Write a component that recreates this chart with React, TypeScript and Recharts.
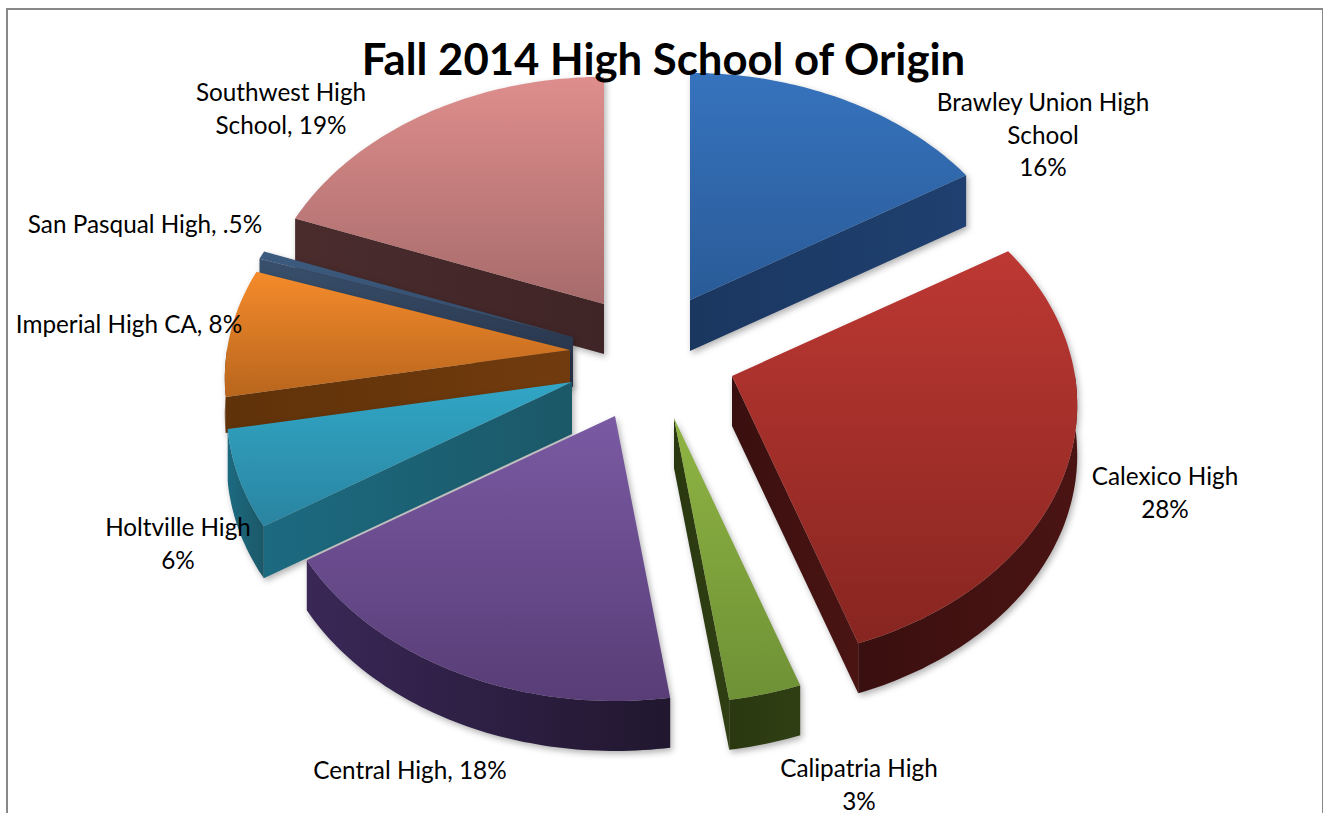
import { PieChart, Pie } from 'recharts'

const schools = [
  'Brawley Union High School',
  'Calexico High',
  'Calipatria High',
  'Central High',
  'Holtville High',
  'Imperial High CA',
  'San Pasqual High',
  'Southwest High School',
]
const shares = [16, 28, 3, 18, 6, 8, 0.5, 19]
const labelLines = [
  ['Brawley Union High', 'School', '16%'],
  ['Calexico High', '28%'],
  ['Calipatria High', '3%'],
  ['Central High, 18%'],
  ['Holtville High', '6%'],
  ['Imperial High CA, 8%'],
  ['San Pasqual High, .5%'],
  ['Southwest High', 'School, 19%'],
]

// painted back to front, so the pie runs counter-clockwise from 12 o'clock
const rows = schools.map((name, i) => ({ name, value: shares[i], index: i })).reverse()

const WIDTH = 1323
const HEIGHT = 813
const CX = 640
const CY = 370
const RADIUS = 343
const TILT = 0.737
const PERSPECTIVE = 0.113

// explode offset of each wedge tip, wall height, top face colours, wall colours, label anchor
const looks = [
  { dx: 50, dy: -70, depth: 51, top: ['#3673bd', '#2a5b98'], wall: ['#1a3760', '#1f4070'], at: [1043, 111] },
  { dx: 92, dy: 6, depth: 50, top: ['#bd3833', '#872520'], wall: ['#3a0f0f', '#4a1413'], at: [1165, 485] },
  { dx: 34, dy: 48, depth: 50, top: ['#8fb443', '#6f9136'], wall: ['#2a3810', '#303f13'], at: [859, 777] },
  { dx: -25, dy: 46, depth: 50, top: ['#7a5aa3', '#583d77'], wall: ['#3a2757', '#21172f'], at: [410, 779] },
  { dx: -68, dy: 12, depth: 52, top: ['#31a6c6', '#2a84a0'], wall: ['#1c6a80', '#1b5868'], at: [178, 536] },
  { dx: -70, dy: -20, depth: 36, top: ['#f58b2b', '#b8651d'], wall: ['#603209', '#713b0e'], at: [129, 333] },
  { dx: -67, dy: -33, depth: 50, top: ['#3d5c80', '#324a68'], wall: ['#384f6b', '#2b3950'], at: [145, 233] },
  { dx: -36, dy: -66, depth: 50, top: ['#de8e8c', '#a76b6b'], wall: ['#4a2c2d', '#402526'], at: [281, 101] },
]

const fontFamily = 'Lato, Carlito, sans-serif'

type Pt = [number, number]

function Wedge(props: any) {
  const { cx, cy, startAngle, endAngle, outerRadius } = props
  const index = props.payload?.index ?? props.index
  const look = looks[index]
  const tip: Pt = [cx + look.dx, cy + look.dy]

  const rimPoint = (deg: number): Pt => {
    const rad = (deg * Math.PI) / 180
    const u = Math.cos(rad)
    const v = -Math.sin(rad)
    const s = 1 / (1 - PERSPECTIVE * v)
    return [tip[0] + outerRadius * u * s, tip[1] + outerRadius * TILT * v * s]
  }

  const steps = Math.max(2, Math.ceil(endAngle - startAngle))
  const angles = Array.from({ length: steps + 1 }, (_, i) => startAngle + ((endAngle - startAngle) * i) / steps)
  const rim = angles.map(rimPoint)
  const first = rim[0]
  const last = rim[rim.length - 1]
  const mid = rim[Math.floor(rim.length / 2)]
  const centre: Pt = [(tip[0] + first[0] + last[0] + mid[0]) / 4, (tip[1] + first[1] + last[1] + mid[1]) / 4]

  const toPath = (pts: Pt[]) => pts.map((p, i) => `${i ? 'L' : 'M'}${p[0].toFixed(1)} ${p[1].toFixed(1)}`).join(' ') + ' Z'
  const drop = (pts: Pt[]): Pt[] => [...pts, ...pts.slice().reverse().map((p): Pt => [p[0], p[1] + look.depth])]

  const facesViewer = (end: Pt) => {
    const ex = end[0] - tip[0]
    const ey = end[1] - tip[1]
    let nx = -ey
    let ny = ex
    const mx = (end[0] + tip[0]) / 2 - centre[0]
    const my = (end[1] + tip[1]) / 2 - centre[1]
    if (nx * mx + ny * my < 0) {
      nx = -nx
      ny = -ny
    }
    return ny > 0
  }

  const lowerRim = angles.filter((a) => Math.sin((a * Math.PI) / 180) <= 0.02).map(rimPoint)
  const id = `slice-${index}`

  return (
    <g style={{ filter: 'drop-shadow(2px 3px 3px rgba(0,0,0,0.3))' }}>
      <defs>
        <linearGradient id={`${id}-top`} x1="0" y1="0" x2="0" y2="1">
          <stop offset="0%" stopColor={look.top[0]} />
          <stop offset="100%" stopColor={look.top[1]} />
        </linearGradient>
        <linearGradient id={`${id}-wall`} x1="0" y1="0" x2="1" y2="0">
          <stop offset="0%" stopColor={look.wall[0]} />
          <stop offset="100%" stopColor={look.wall[1]} />
        </linearGradient>
      </defs>
      {facesViewer(first) && <path d={toPath(drop([tip, first]))} fill={`url(#${id}-wall)`} />}
      {facesViewer(last) && <path d={toPath(drop([tip, last]))} fill={`url(#${id}-wall)`} />}
      {lowerRim.length > 1 && <path d={toPath(drop(lowerRim))} fill={`url(#${id}-wall)`} />}
      <path d={toPath([tip, ...rim])} fill={`url(#${id}-top)`} />
    </g>
  )
}

function SliceLabel(props: any) {
  const index = props.payload?.index ?? props.index
  const [x, y] = looks[index].at
  return (
    <text textAnchor="middle" fontFamily={fontFamily} fontSize={24.3} fill="#000">
      {labelLines[index].map((line, i) => (
        <tspan key={line} x={x} y={y + i * 32.5}>
          {line}
        </tspan>
      ))}
    </text>
  )
}

export default function App() {
  return (
    <div style={{ position: 'absolute', left: 0, top: 0, width: WIDTH, height: HEIGHT, overflow: 'hidden', background: '#fff' }}>
      <div
        style={{
          position: 'absolute',
          left: 6,
          top: 8,
          width: 1314,
          height: 830,
          borderTop: '2px solid #888',
          borderLeft: '2px solid #888',
          borderRight: '2px solid #888',
        }}
      />
      <PieChart width={WIDTH} height={HEIGHT} margin={{ top: 0, right: 0, bottom: 0, left: 0 }}>
        <Pie
          data={rows}
          dataKey="value"
          nameKey="name"
          cx={CX}
          cy={CY}
          outerRadius={RADIUS}
          startAngle={90}
          endAngle={450}
          stroke="none"
          shape={Wedge}
          label={SliceLabel}
          labelLine={false}
          isAnimationActive={false}
        />
      </PieChart>
      <div
        style={{
          position: 'absolute',
          left: 0,
          width: 1327,
          top: 32,
          textAlign: 'center',
          fontFamily,
          fontWeight: 700,
          fontSize: 43.7,
          lineHeight: '52px',
          color: '#000',
        }}
      >
        Fall 2014 High School of Origin
      </div>
    </div>
  )
}
